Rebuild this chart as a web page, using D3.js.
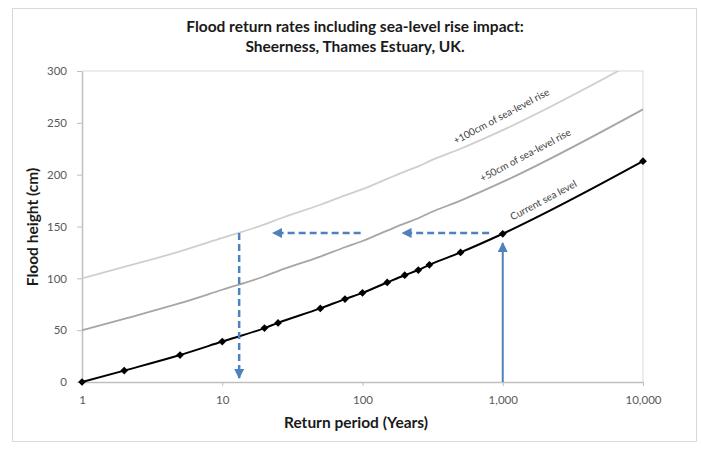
<!DOCTYPE html>
<html><head><meta charset="utf-8">
<script src="https://cdn.jsdelivr.net/npm/d3@7/dist/d3.min.js"></script>
<style>
body{margin:0;background:#fff;}
text{font-family:Lato,"Open Sans",sans-serif;}
</style></head>
<body><svg id="c" width="701" height="450"></svg>
<script>
// ---- data ----
const years = [1,2,5,10,20,25,50,75,100,150,200,250,300,500,1000,10000];
const currentLevel = [0,11,26,39,52,57,71,80,86,96,103,108,113,125,143,213];
const rise50 = [50,61,76,89,102,107,121,130,136,146,153,158,163,175,193,263];
const rise100 = [100,111,126,139,152,157,171,180,186,196,203,208,213,225,243,313];
const yTicks = [0,50,100,150,200,250,300];
const xTicks = [1,10,100,1000,10000];
const titleLines = ["Flood return rates including sea-level rise impact:","Sheerness, Thames Estuary, UK."];
const curveLabels = [
  {text:"+100cm of sea-level rise", year:984, h:255.6},
  {text:"+50cm of sea-level rise", year:1459, h:218},
  {text:"Current sea level", year:1963, h:174.6}
];
// annotation arrows (data coordinates)
const solidArrow = {x1:1000,y1:0,x2:1000,y2:134};
const dashedArrows = [
  {x1:800,y1:143.7,x2:193,y2:143.7},
  {x1:97,y1:143.7,x2:23,y2:143.7},
  {x1:13.2,y1:143.7,x2:13.2,y2:3.9}
];

const svg = d3.select("#c");
const x = d3.scaleLog().domain([1,10000]).range([82,643]);
const y = d3.scaleLinear().domain([0,300]).range([382,71]);

// outer frame
svg.append("rect").attr("x",12.5).attr("y",8.5).attr("width",684).attr("height",433)
  .attr("fill","#fff").attr("stroke","#d9d9d9");

// plot area border (top & right)
svg.append("path").attr("d",`M${x(1)},${y(300)}H${x(10000)}V${y(0)}`)
  .attr("fill","none").attr("stroke","#d9d9d9");

// title
svg.append("g").selectAll("text").data(titleLines).join("text")
  .attr("x",355).attr("y",(d,i)=>32+i*19.5).attr("text-anchor","middle")
  .attr("font-size",15.5).attr("font-weight","bold").attr("fill","#1a1a1a").text(d=>d);

// axes
const yAxis = svg.append("g").attr("transform",`translate(${x(1)},0)`)
  .call(d3.axisLeft(y).tickValues(yTicks).tickSize(5).tickPadding(10).tickSizeOuter(0));
const xAxis = svg.append("g").attr("transform",`translate(0,${y(0)})`)
  .call(d3.axisBottom(x).tickValues(xTicks).tickFormat(d3.format(",")).tickSize(4).tickPadding(10).tickSizeOuter(0));
[yAxis,xAxis].forEach(g=>{
  g.selectAll("path,line").attr("stroke","#bfbfbf");
  g.selectAll("text").attr("fill","#595959").attr("font-size",11.5).style("font-family","Lato,'Open Sans',sans-serif");
});
yAxis.select(".domain").attr("stroke-width",1.5);
xAxis.select(".domain").attr("stroke-width",1.5);

// axis titles
svg.append("text").attr("x",356).attr("y",428).attr("text-anchor","middle")
  .attr("font-size",15.5).attr("font-weight","bold").attr("fill","#1a1a1a").text("Return period (Years)");
svg.append("text").attr("transform","translate(38,227) rotate(-90)").attr("text-anchor","middle")
  .attr("font-size",15.5).attr("font-weight","bold").attr("fill","#1a1a1a").text("Flood height (cm)");

// clip
svg.append("clipPath").attr("id","clip").append("rect")
  .attr("x",x(1)).attr("y",y(300)).attr("width",x(10000)-x(1)).attr("height",y(0)-y(300));

const line = d3.line().x((d,i)=>x(years[i])).y(d=>y(d)).curve(d3.curveMonotoneX);
const plot = svg.append("g").attr("clip-path","url(#clip)");
plot.append("path").attr("d",line(rise100)).attr("fill","none").attr("stroke","#cfcfcf").attr("stroke-width",1.8);
plot.append("path").attr("d",line(rise50)).attr("fill","none").attr("stroke","#a6a6a6").attr("stroke-width",1.8);
svg.append("path").attr("d",line(currentLevel)).attr("fill","none").attr("stroke","#000").attr("stroke-width",2);

// markers
svg.append("g").selectAll("path").data(currentLevel).join("path")
  .attr("d",d3.symbol(d3.symbolSquare,30)())
  .attr("transform",(d,i)=>`translate(${x(years[i])},${y(d)}) rotate(45)`)
  .attr("fill","#000");

// curve labels
svg.append("g").selectAll("text").data(curveLabels).join("text")
  .attr("transform",d=>`translate(${x(d.year)},${y(d.h)}) rotate(-28)`)
  .attr("text-anchor","middle").attr("dominant-baseline","middle")
  .attr("font-size",10).attr("fill","#404040").text(d=>d.text);

// arrows
const blue = "#4f81bd";
const defs = svg.append("defs");
defs.append("marker").attr("id","ah").attr("viewBox","0 0 10 10").attr("refX",9).attr("refY",5)
  .attr("markerWidth",10).attr("markerHeight",10).attr("markerUnits","userSpaceOnUse")
  .attr("orient","auto").append("path").attr("d","M0,0L10,5L0,10Z").attr("fill",blue);
svg.append("line").attr("x1",x(solidArrow.x1)).attr("y1",y(solidArrow.y1))
  .attr("x2",x(solidArrow.x2)).attr("y2",y(solidArrow.y2))
  .attr("stroke",blue).attr("stroke-width",2).attr("marker-end","url(#ah)");
svg.append("g").selectAll("line").data(dashedArrows).join("line")
  .attr("x1",d=>x(d.x1)).attr("y1",d=>y(d.y1)).attr("x2",d=>x(d.x2)).attr("y2",d=>y(d.y2))
  .attr("stroke",blue).attr("stroke-width",2.5).attr("stroke-dasharray","7,4")
  .attr("marker-end","url(#ah)");
</script></body></html>
